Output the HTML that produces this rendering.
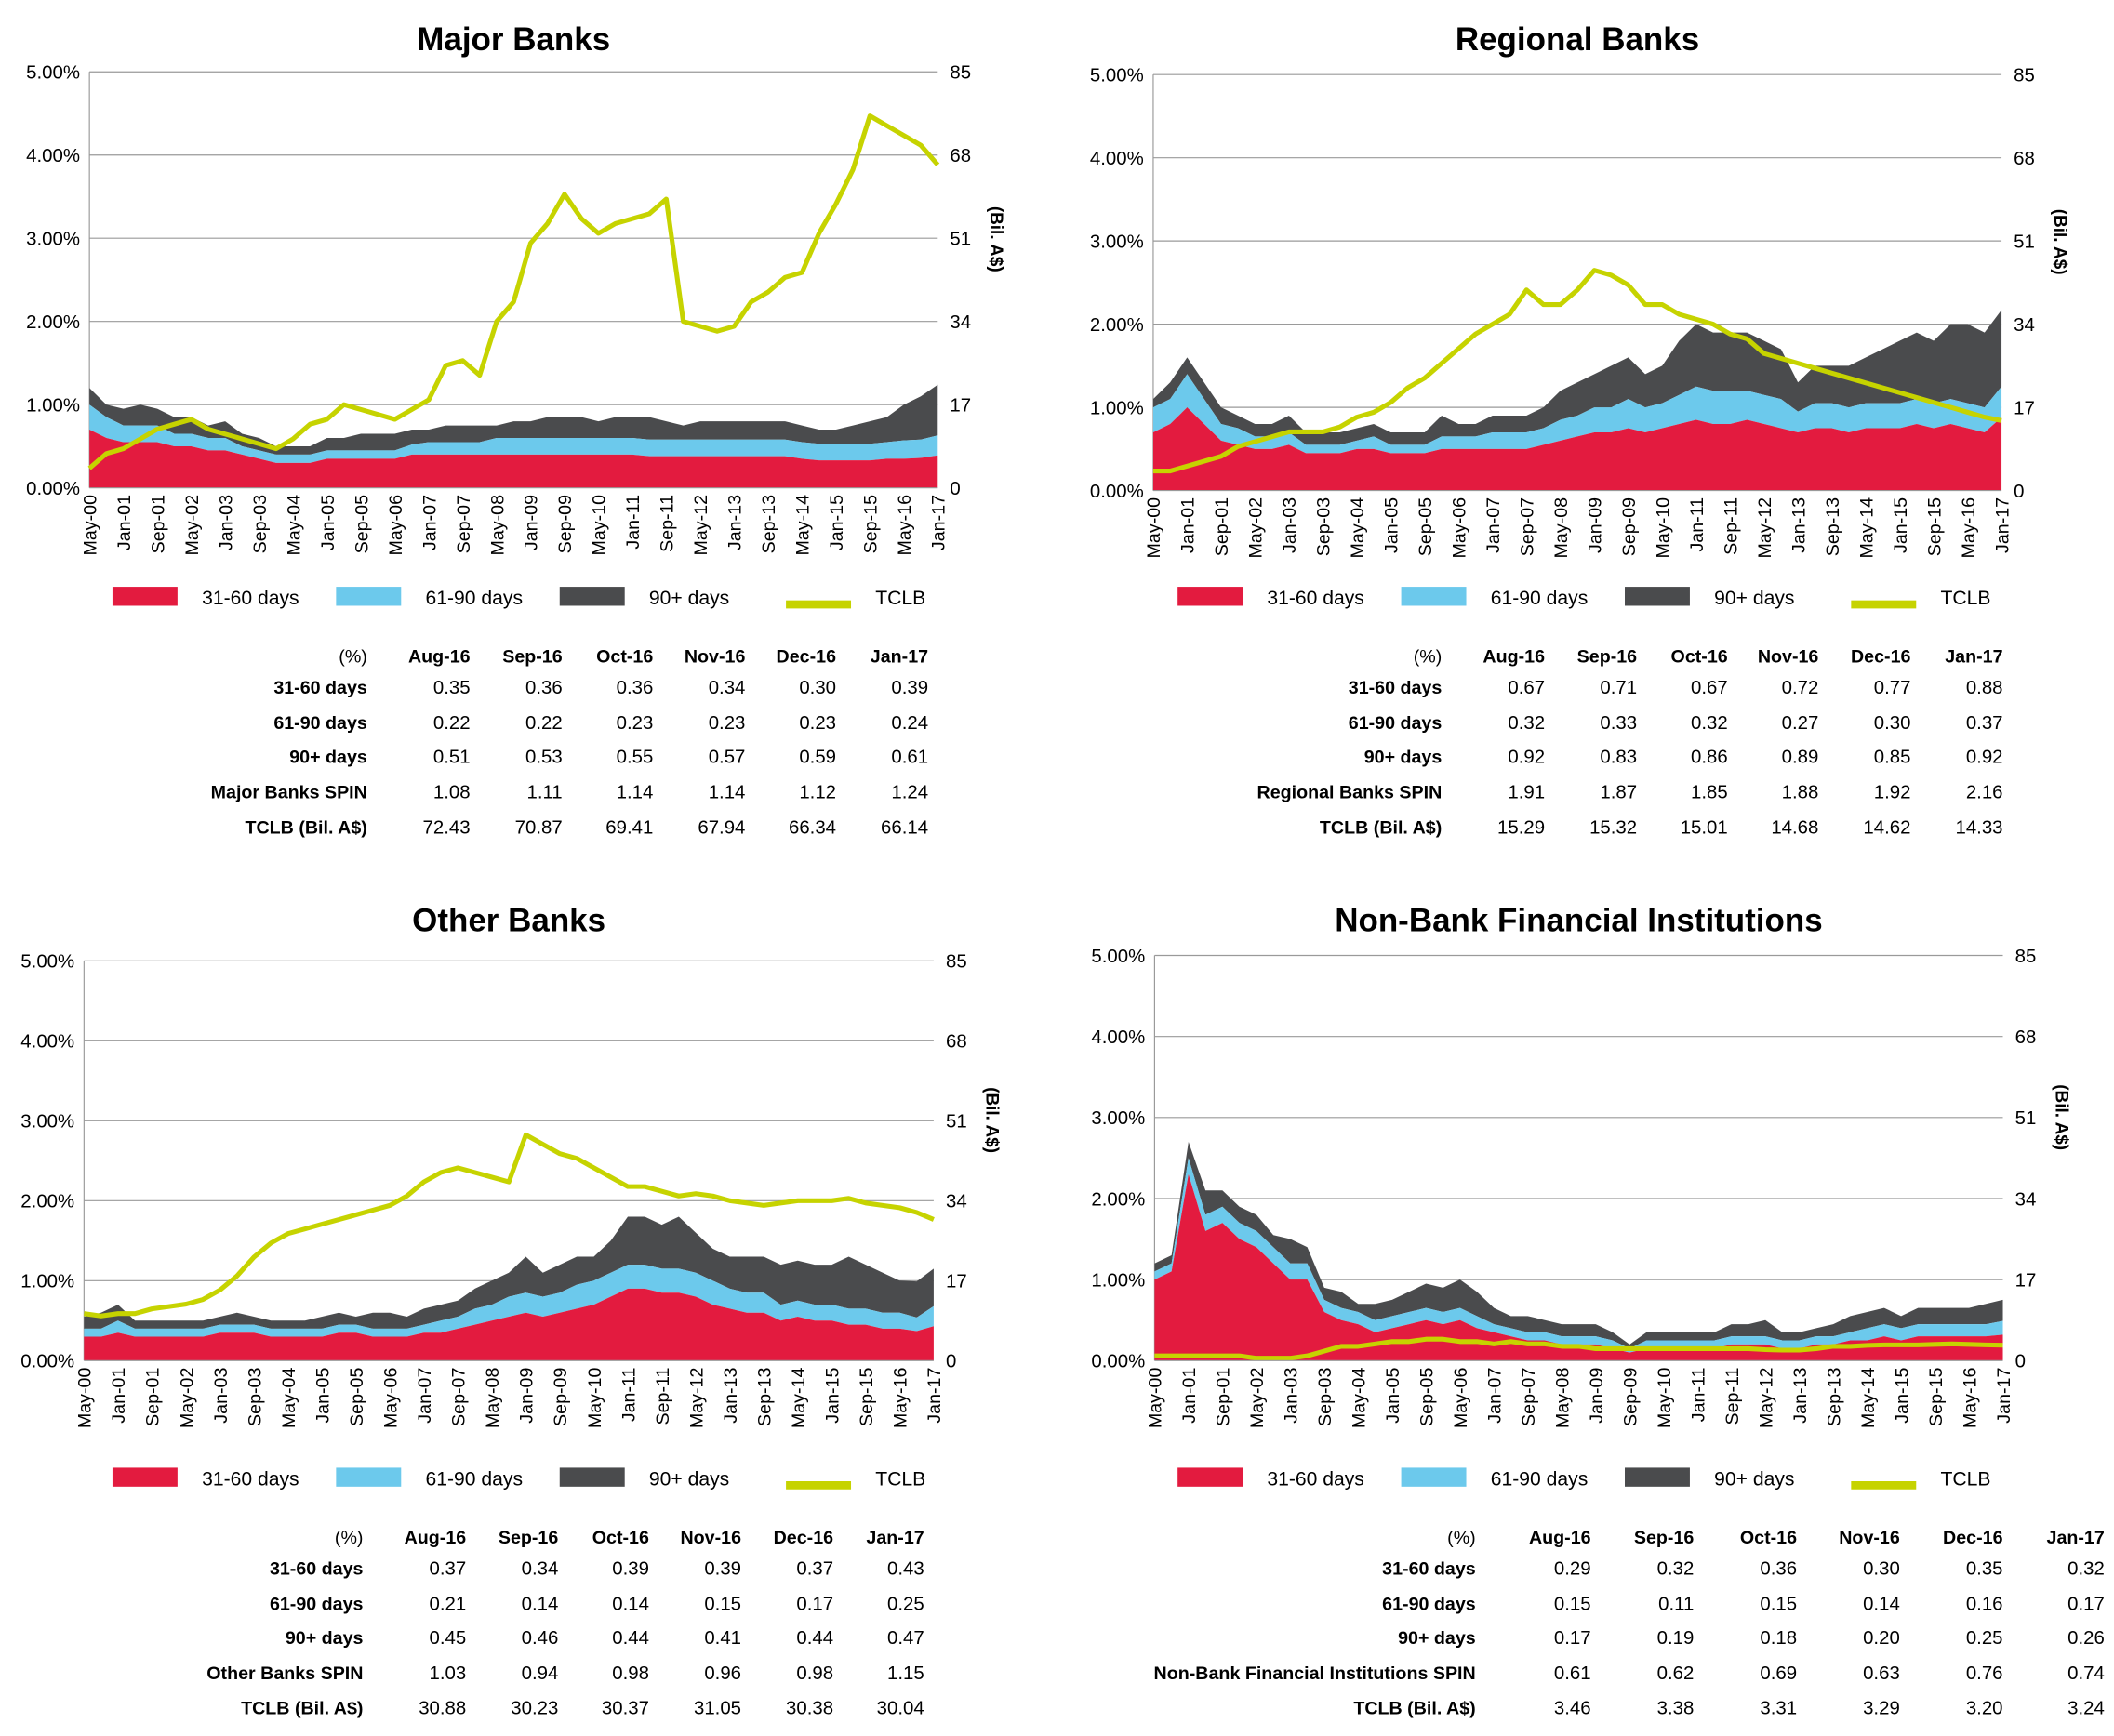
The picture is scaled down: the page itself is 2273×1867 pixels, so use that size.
<!DOCTYPE html>
<html><head><meta charset="utf-8">
<style>
html,body{margin:0;padding:0;background:#fff;}
svg{display:block;font-family:"Liberation Sans",Arial,sans-serif;}
</style></head>
<body>
<svg id="root" width="2273" height="1867" viewBox="0 0 1560 1281" preserveAspectRatio="none" xmlns="http://www.w3.org/2000/svg"></svg>
<script>
// ---------- data (51 points, every 4 months from May-00 to Jan-17) ----------
const xTickLabels = ["May-00","Jan-01","Sep-01","May-02","Jan-03","Sep-03","May-04","Jan-05","Sep-05","May-06","Jan-07","Sep-07","May-08","Jan-09","Sep-09","May-10","Jan-11","Sep-11","May-12","Jan-13","Sep-13","May-14","Jan-15","Sep-15","May-16","Jan-17"];
const leftTicks = ["0.00%","1.00%","2.00%","3.00%","4.00%","5.00%"];
const rightTicks = ["0","17","34","51","68","85"];
const tableCols = ["Aug-16","Sep-16","Oct-16","Nov-16","Dec-16","Jan-17"];

const majorRed = [0.7,0.6,0.55,0.55,0.55,0.5,0.5,0.45,0.45,0.4,0.35,0.3,0.3,0.3,0.35,0.35,0.35,0.35,0.35,0.4,0.4,0.4,0.4,0.4,0.4,0.4,0.4,0.4,0.4,0.4,0.4,0.4,0.4,0.38,0.38,0.38,0.38,0.38,0.38,0.38,0.38,0.38,0.35,0.33,0.33,0.33,0.33,0.35,0.35,0.36,0.39];
const majorBlue = [0.3,0.25,0.2,0.2,0.2,0.15,0.15,0.15,0.15,0.1,0.1,0.1,0.1,0.1,0.1,0.1,0.1,0.1,0.1,0.12,0.15,0.15,0.15,0.15,0.2,0.2,0.2,0.2,0.2,0.2,0.2,0.2,0.2,0.2,0.2,0.2,0.2,0.2,0.2,0.2,0.2,0.2,0.2,0.2,0.2,0.2,0.2,0.2,0.22,0.22,0.24];
const majorDark = [0.2,0.15,0.2,0.25,0.2,0.2,0.2,0.15,0.2,0.15,0.15,0.1,0.1,0.1,0.15,0.15,0.2,0.2,0.2,0.18,0.15,0.2,0.2,0.2,0.15,0.2,0.2,0.25,0.25,0.25,0.2,0.25,0.25,0.27,0.22,0.17,0.22,0.22,0.22,0.22,0.22,0.22,0.2,0.17,0.17,0.22,0.27,0.3,0.43,0.52,0.61];
const majorTclb = [4,7,8,10,12,13,14,12,11,10,9,8,10,13,14,17,16,15,14,16,18,25,26,23,34,38,50,54,60,55,52,54,55,56,59,34,33,32,33,38,40,43,44,52,58,65,76,74,72,70,66];

const regRed = [0.7,0.8,1.0,0.8,0.6,0.55,0.5,0.5,0.55,0.45,0.45,0.45,0.5,0.5,0.45,0.45,0.45,0.5,0.5,0.5,0.5,0.5,0.5,0.55,0.6,0.65,0.7,0.7,0.75,0.7,0.75,0.8,0.85,0.8,0.8,0.85,0.8,0.75,0.7,0.75,0.75,0.7,0.75,0.75,0.75,0.8,0.75,0.8,0.75,0.7,0.88];
const regBlue = [0.3,0.3,0.4,0.3,0.2,0.2,0.15,0.15,0.15,0.1,0.1,0.1,0.1,0.15,0.1,0.1,0.1,0.15,0.15,0.15,0.2,0.2,0.2,0.2,0.25,0.25,0.3,0.3,0.35,0.3,0.3,0.35,0.4,0.4,0.4,0.35,0.35,0.35,0.25,0.3,0.3,0.3,0.3,0.3,0.3,0.3,0.3,0.3,0.3,0.3,0.37];
const regDark = [0.1,0.2,0.2,0.2,0.2,0.15,0.15,0.15,0.2,0.15,0.15,0.15,0.15,0.15,0.15,0.15,0.15,0.25,0.15,0.15,0.2,0.2,0.2,0.25,0.35,0.4,0.4,0.5,0.5,0.4,0.45,0.65,0.75,0.7,0.7,0.7,0.65,0.6,0.35,0.45,0.45,0.5,0.55,0.65,0.75,0.8,0.75,0.9,0.95,0.9,0.92];
const regTclb = [4,4,5,6,7,9,10,11,12,12,12,13,15,16,18,21,23,26,29,32,34,36,41,38,38,41,45,44,42,38,38,36,35,34,32,31,28,27,26,25,24,23,22,21,20,19,18,17,16,15,14.3];

const othRed = [0.3,0.3,0.35,0.3,0.3,0.3,0.3,0.3,0.35,0.35,0.35,0.3,0.3,0.3,0.3,0.35,0.35,0.3,0.3,0.3,0.35,0.35,0.4,0.45,0.5,0.55,0.6,0.55,0.6,0.65,0.7,0.8,0.9,0.9,0.85,0.85,0.8,0.7,0.65,0.6,0.6,0.5,0.55,0.5,0.5,0.45,0.45,0.4,0.4,0.37,0.43];
const othBlue = [0.1,0.1,0.15,0.1,0.1,0.1,0.1,0.1,0.1,0.1,0.1,0.1,0.1,0.1,0.1,0.1,0.1,0.1,0.1,0.1,0.1,0.15,0.15,0.2,0.2,0.25,0.25,0.25,0.25,0.3,0.3,0.3,0.3,0.3,0.3,0.3,0.3,0.3,0.25,0.25,0.25,0.2,0.2,0.2,0.2,0.2,0.2,0.2,0.2,0.17,0.25];
const othDark = [0.15,0.2,0.2,0.1,0.1,0.1,0.1,0.1,0.1,0.15,0.1,0.1,0.1,0.1,0.15,0.15,0.1,0.2,0.2,0.15,0.2,0.2,0.2,0.25,0.3,0.3,0.45,0.3,0.35,0.35,0.3,0.4,0.6,0.6,0.55,0.65,0.5,0.4,0.4,0.45,0.45,0.5,0.5,0.5,0.5,0.65,0.55,0.5,0.4,0.45,0.47];
const othTclb = [10,9.5,10,10,11,11.5,12,13,15,18,22,25,27,28,29,30,31,32,33,35,38,40,41,40,39,38,48,46,44,43,41,39,37,37,36,35,35.5,35,34,33.5,33,33.5,34,34,34,34.5,33.5,33,32.5,31.5,30];

const nbfRed = [1.0,1.1,2.3,1.6,1.7,1.5,1.4,1.2,1.0,1.0,0.6,0.5,0.45,0.35,0.4,0.45,0.5,0.45,0.5,0.4,0.35,0.3,0.25,0.25,0.2,0.2,0.2,0.15,0.1,0.15,0.15,0.15,0.15,0.15,0.2,0.2,0.2,0.15,0.15,0.2,0.2,0.25,0.25,0.3,0.25,0.3,0.3,0.3,0.3,0.3,0.32];
const nbfBlue = [0.1,0.1,0.2,0.2,0.2,0.2,0.2,0.2,0.2,0.2,0.15,0.15,0.15,0.15,0.15,0.15,0.15,0.15,0.15,0.15,0.1,0.1,0.1,0.1,0.1,0.1,0.1,0.1,0.05,0.1,0.1,0.1,0.1,0.1,0.1,0.1,0.1,0.1,0.1,0.1,0.1,0.1,0.15,0.15,0.15,0.15,0.15,0.15,0.15,0.15,0.17];
const nbfDark = [0.1,0.1,0.2,0.3,0.2,0.2,0.2,0.15,0.3,0.2,0.15,0.2,0.1,0.2,0.2,0.25,0.3,0.3,0.35,0.3,0.2,0.15,0.2,0.15,0.15,0.15,0.15,0.1,0.05,0.1,0.1,0.1,0.1,0.1,0.15,0.15,0.2,0.1,0.1,0.1,0.15,0.2,0.2,0.2,0.15,0.2,0.2,0.2,0.2,0.25,0.26];
const nbfTclb = [1,1,1,1,1,1,0.5,0.5,0.5,1,2,3,3,3.5,4,4,4.5,4.5,4,4,3.5,4,3.5,3.5,3,3,2.5,2.5,2.5,2.5,2.5,2.5,2.5,2.5,2.5,2.5,2.3,2.2,2.2,2.5,3,3,3.2,3.3,3.3,3.3,3.4,3.5,3.4,3.3,3.24];

const majorTable = [["31-60 days","0.35","0.36","0.36","0.34","0.30","0.39"],["61-90 days","0.22","0.22","0.23","0.23","0.23","0.24"],["90+ days","0.51","0.53","0.55","0.57","0.59","0.61"],["Major Banks SPIN","1.08","1.11","1.14","1.14","1.12","1.24"],["TCLB (Bil. A$)","72.43","70.87","69.41","67.94","66.34","66.14"]];
const regTable = [["31-60 days","0.67","0.71","0.67","0.72","0.77","0.88"],["61-90 days","0.32","0.33","0.32","0.27","0.30","0.37"],["90+ days","0.92","0.83","0.86","0.89","0.85","0.92"],["Regional Banks SPIN","1.91","1.87","1.85","1.88","1.92","2.16"],["TCLB (Bil. A$)","15.29","15.32","15.01","14.68","14.62","14.33"]];
const othTable = [["31-60 days","0.37","0.34","0.39","0.39","0.37","0.43"],["61-90 days","0.21","0.14","0.14","0.15","0.17","0.25"],["90+ days","0.45","0.46","0.44","0.41","0.44","0.47"],["Other Banks SPIN","1.03","0.94","0.98","0.96","0.98","1.15"],["TCLB (Bil. A$)","30.88","30.23","30.37","31.05","30.38","30.04"]];
const nbfTable = [["31-60 days","0.29","0.32","0.36","0.30","0.35","0.32"],["61-90 days","0.15","0.11","0.15","0.14","0.16","0.17"],["90+ days","0.17","0.19","0.18","0.20","0.25","0.26"],["Non-Bank Financial Institutions SPIN","0.61","0.62","0.69","0.63","0.76","0.74"],["TCLB (Bil. A$)","3.46","3.38","3.31","3.29","3.20","3.24"]];

// ---------- drawing ----------
const NS = "http://www.w3.org/2000/svg";
const root = document.getElementById("root");
const RED="#e31b3f", BLUE="#6cc9ec", DARK="#4a4b4d", LIME="#c6d300";

function mk(tag, attrs, parent, txt){
  const e = document.createElementNS(NS, tag);
  for (const k in attrs) e.setAttribute(k, attrs[k]);
  if (txt !== undefined) e.textContent = txt;
  (parent||root).appendChild(e);
  return e;
}

function panel(cfg){
  const g = mk("g", {});
  
  
  const L=cfg.x0, R=cfg.x1, B=cfg.y0, T=cfg.yTop;
  const xs = i => L + (R-L)*i/(cfg.red.length-1);
  const yl = v => B - (B-T)*v/5;
  const yr = v => B - (B-T)*v/85;

  const title = mk("text",{x:(L+R)/2,y:cfg.titleY,"text-anchor":"middle","font-size":24,"font-weight":"bold",fill:"#000"},g,cfg.title);
  
  

  for (let k=0;k<leftTicks.length;k++){
    const y = yl(k);
    if (k>0){
      const gl = mk("line",{x1:L,x2:R,y1:y,y2:y,stroke:"#9a9a9a","stroke-width":0.8},g);
      
      
    }
    const lt = mk("text",{x:L-7,y:y+5,"text-anchor":"end","font-size":14,fill:"#000"},g,leftTicks[k]);
    
    
    const rt = mk("text",{x:R+9,y:y+5,"text-anchor":"start","font-size":14,fill:"#000"},g,rightTicks[k]);
    
    
  }
  const ax = mk("line",{x1:L,x2:L,y1:T,y2:B,stroke:"#9a9a9a","stroke-width":0.8},g);
  
  

  const yt = mk("text",{transform:`translate(${R+39},${(T+B)/2-30}) rotate(90)`,"text-anchor":"middle","font-size":13,"font-weight":"bold",fill:"#000"},g,"(Bil. A$)");
  
  

  const n = cfg.red.length;
  const s1 = cfg.red, s2 = cfg.red.map((v,i)=>v+cfg.blue[i]), s3 = s2.map((v,i)=>v+cfg.dark[i]);
  function area(top, bot){
    let d = "M"+xs(0)+","+yl(top[0]);
    for (let i=1;i<n;i++) d += "L"+xs(i)+","+yl(top[i]);
    for (let i=n-1;i>=0;i--) d += "L"+xs(i)+","+yl(bot?bot[i]:0);
    return d+"Z";
  }
  const aDark = mk("path",{d:area(s3,s2),fill:DARK},g);
  
  
  const aBlue = mk("path",{d:area(s2,s1),fill:BLUE},g);
  
  
  const aRed = mk("path",{d:area(s1,null),fill:RED},g);
  
  

  let dl = "";
  cfg.tclb.forEach((v,i)=>{ dl += (i?"L":"M")+xs(i)+","+yr(v); });
  const ln = mk("path",{d:dl,fill:"none",stroke:LIME,"stroke-width":3.5,"stroke-linejoin":"round"},g);
  
  

  const bl = mk("line",{x1:L,x2:R,y1:B,y2:B,stroke:"#9a9a9a","stroke-width":0.8},g);
  
  

  xTickLabels.forEach((lab,j)=>{
    const x = L + (R-L)*j/(xTickLabels.length-1);
    const t = mk("text",{transform:`translate(${x+5},${B+5}) rotate(-90)`,"text-anchor":"end","font-size":13.5,fill:"#000"},g,lab);
    
    
  });

  const lx = cfg.legX, ly = cfg.legY;
  const items = [["31-60 days",RED,0],["61-90 days",BLUE,165],["90+ days",DARK,330]];
  items.forEach(it=>{
    const r = mk("rect",{x:lx+it[2],y:ly-8,width:48,height:14,fill:it[1]},g);
    
    
    const t = mk("text",{x:lx+it[2]+66,y:ly+5,"font-size":14.5,fill:"#000"},g,it[0]);
    
    
  });
  const ll = mk("rect",{x:lx+497,y:ly+2,width:48,height:6,fill:LIME},g);
  
  
  const lt2 = mk("text",{x:lx+563,y:ly+5,"font-size":14.5,fill:"#000"},g,"TCLB");
  
  

  const ty = cfg.tabY, rowsY=[0,23,49,74,100,126];
  const hd = mk("text",{x:cfg.labX,y:ty,"text-anchor":"end","font-size":13.5,fill:"#000"},g,"(%)");
  
  
  tableCols.forEach((c,k)=>{
    const t = mk("text",{x:cfg.colX[k],y:ty,"text-anchor":"end","font-size":13.5,"font-weight":"bold",fill:"#000"},g,c);
    
    
  });
  cfg.table.forEach((row,r)=>{
    const y = ty + rowsY[r+1];
    const t = mk("text",{x:cfg.labX,y:y,"text-anchor":"end","font-size":13.5,"font-weight":"bold",fill:"#000"},g,row[0]);
    
    
    for (let k=1;k<row.length;k++){
      const v = mk("text",{x:cfg.colX[k-1],y:y,"text-anchor":"end","font-size":14,fill:"#000"},g,row[k]);
      
      
    }
  });
}

panel({slug:"major-banks",title:"Major Banks",x0:66,x1:692,y0:360,yTop:53,titleY:37,
  red:majorRed,blue:majorBlue,dark:majorDark,tclb:majorTclb,legX:83,legY:441,
  tabY:489,labX:271,colX:[347,415,482,550,617,685],table:majorTable});
panel({slug:"regional-banks",title:"Regional Banks",x0:851,x1:1477,y0:362,yTop:55,titleY:37,
  red:regRed,blue:regBlue,dark:regDark,tclb:regTclb,legX:869,legY:441,
  tabY:489,labX:1064,colX:[1140,1208,1275,1342,1410,1478],table:regTable});
panel({slug:"other-banks",title:"Other Banks",x0:62,x1:689,y0:1004,yTop:709,titleY:687,
  red:othRed,blue:othBlue,dark:othDark,tclb:othTclb,legX:83,legY:1091,
  tabY:1139,labX:268,colX:[344,412,479,547,615,682],table:othTable});
panel({slug:"non-bank-fi",title:"Non-Bank Financial Institutions",x0:852,x1:1478,y0:1004,yTop:705,titleY:687,
  red:nbfRed,blue:nbfBlue,dark:nbfDark,tclb:nbfTclb,legX:869,legY:1091,
  tabY:1139,labX:1089,colX:[1174,1250,1326,1402,1478,1553],table:nbfTable});
</script>
</body></html>
